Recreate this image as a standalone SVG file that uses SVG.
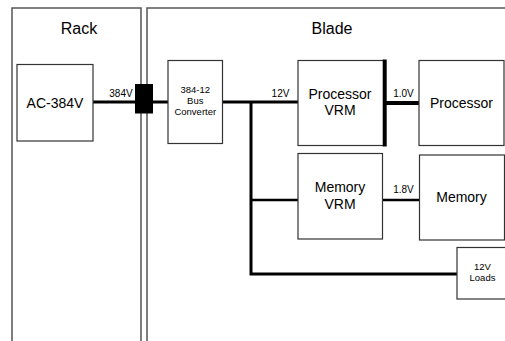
<svg xmlns="http://www.w3.org/2000/svg" width="505" height="341" viewBox="0 0 505 341">
<style>
.frame{fill:none;stroke:#555;stroke-width:1.5}
.box{fill:#fff;stroke:#333;stroke-width:1.2}
.t{font-family:"Liberation Sans",Arial,sans-serif;fill:#000;text-anchor:middle}
.big{font-size:16px}
.mid{font-size:14px}
.sm{font-size:9.5px}
.lb{font-size:10px}
.w{stroke:#000;fill:none}
</style>
<rect width="505" height="341" fill="#fff"/>
<g id="rack">
<rect class="frame" x="12" y="8" width="129" height="360"/>
<text class="t big" x="79" y="34">Rack</text>
</g>
<g id="blade">
<rect class="frame" x="147" y="8" width="380" height="360"/>
<text class="t big" x="332" y="34">Blade</text>
</g>
<g id="connectors">
<line class="w" stroke-width="3" x1="93" y1="102" x2="168" y2="102"/>
<line class="w" stroke-width="3" x1="222" y1="102" x2="298" y2="102"/>
<polyline class="w" stroke-width="3" points="251,102 251,274 457,274"/>
<line class="w" stroke-width="2.5" x1="251" y1="200" x2="298" y2="200"/>
<line class="w" stroke-width="4" x1="385" y1="103" x2="419" y2="103"/>
<line class="w" stroke-width="2.5" x1="383" y1="200" x2="420" y2="200"/>
<text class="t lb" x="121" y="96.5">384V</text>
<text class="t lb" x="280.5" y="96.5">12V</text>
<text class="t lb" x="403.5" y="96.5">1.0V</text>
<text class="t lb" x="403.5" y="192.5">1.8V</text>
</g>
<g id="plug">
<rect x="135" y="84" width="18" height="29.5" fill="#000"/>
</g>
<g id="ac384v">
<rect class="box" x="17" y="64.5" width="76" height="76.5"/>
<text class="t mid" x="55" y="107.5">AC-384V</text>
</g>
<g id="busconv">
<rect class="box" x="168" y="60.5" width="54.5" height="83"/>
<text class="t sm" x="195.3" y="93">384-12</text>
<text class="t sm" x="195.3" y="104">Bus</text>
<text class="t sm" x="195.3" y="115">Converter</text>
</g>
<g id="procvrm">
<rect class="box" x="298" y="60.5" width="86" height="85"/>
<line class="w" stroke-width="4" x1="384.7" y1="59.5" x2="384.7" y2="146.5"/>
<text class="t mid" x="340" y="98.5">Processor</text>
<text class="t mid" x="340" y="115">VRM</text>
</g>
<g id="processor">
<rect class="box" x="419" y="60.5" width="85" height="85"/>
<text class="t mid" x="461.5" y="107.5">Processor</text>
</g>
<g id="memvrm">
<rect class="box" x="298" y="153.5" width="84.5" height="85.5"/>
<text class="t mid" x="340" y="191.5">Memory</text>
<text class="t mid" x="340" y="208.5">VRM</text>
</g>
<g id="memory">
<rect class="box" x="419.5" y="155" width="85" height="85"/>
<text class="t mid" x="461.5" y="202">Memory</text>
</g>
<g id="loads">
<rect class="box" x="457" y="247.5" width="50" height="51.5"/>
<text class="t sm" x="482.5" y="270">12V</text>
<text class="t sm" x="482.5" y="281">Loads</text>
</g>
</svg>
